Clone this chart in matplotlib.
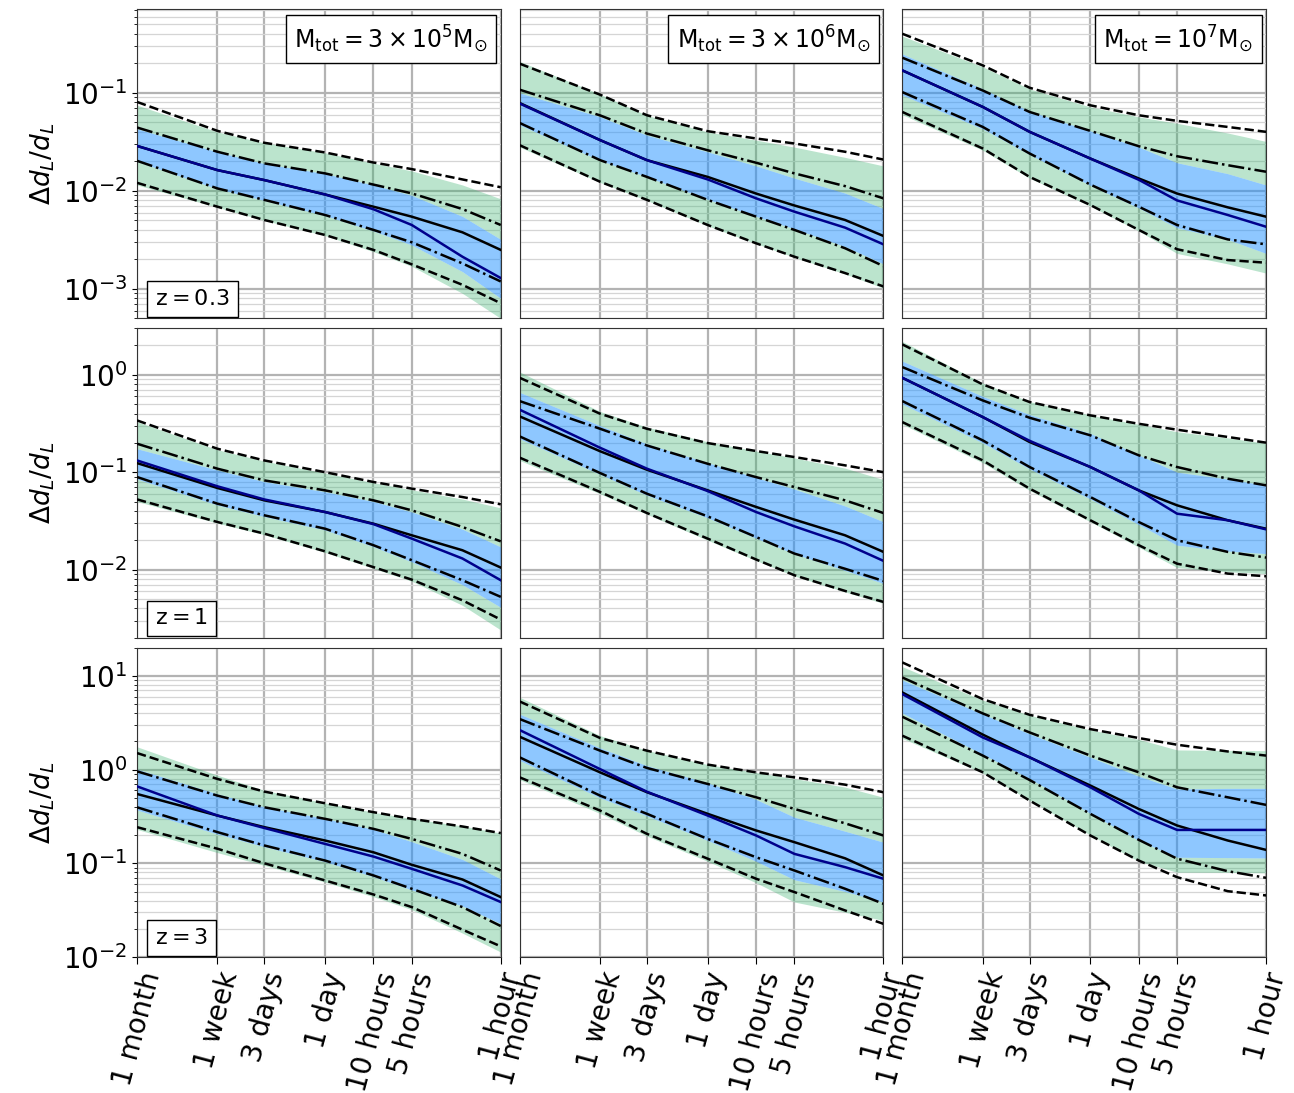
import numpy as np
import matplotlib
matplotlib.use("Agg")
import matplotlib.pyplot as plt

# time before merger (hours) at which the curves are sampled
t_hours = [720, 168, 72, 24, 10, 5, 2, 1]
tick_hours = [720, 168, 72, 24, 10, 5, 1]
tick_labels = ["1 month", "1 week", "3 days", "1 day", "10 hours", "5 hours", "1 hour"]

mass_labels = [r"$\mathrm{M_{tot}} = 3\times10^5\mathrm{M_{\odot}}$",
               r"$\mathrm{M_{tot}} = 3\times10^6\mathrm{M_{\odot}}$",
               r"$\mathrm{M_{tot}} = 10^7\mathrm{M_{\odot}}$"]
z_labels = [r"$\mathrm{z} = 0.3$", r"$\mathrm{z} = 1$", r"$\mathrm{z} = 3$"]
ylims = [(5e-4, 0.72), (2e-3, 3.0), (1e-2, 20.0)]

# ---- row z=0.3 ----
r0c0_dash_hi = [0.081, 0.041, 0.031, 0.0247, 0.0195, 0.0167, 0.0131, 0.0109]
r0c0_dd_hi = [0.0444, 0.0251, 0.0191, 0.0151, 0.0116, 0.00944, 0.00653, 0.00449]
r0c0_black = [0.0288, 0.0163, 0.0129, 0.0092, 0.0069, 0.00546, 0.00378, 0.0025]
r0c0_blue = [0.0288, 0.0163, 0.0129, 0.0092, 0.0065, 0.00449, 0.00213, 0.00129]
r0c0_dd_lo = [0.0203, 0.0106, 0.0081, 0.00568, 0.0040, 0.00299, 0.00182, 0.00119]
r0c0_dash_lo = [0.0121, 0.0069, 0.00505, 0.00355, 0.0025, 0.00178, 0.0011, 0.000714]
r0c0_green_hi = [0.075, 0.040, 0.031, 0.0245, 0.0192, 0.0160, 0.0115, 0.0083]
r0c0_blueband_hi = [0.043, 0.025, 0.019, 0.015, 0.0115, 0.0090, 0.0055, 0.0032]
r0c0_blueband_lo = [0.020, 0.0105, 0.0080, 0.0056, 0.0039, 0.0028, 0.0015, 0.00080]
r0c0_green_lo = [0.0115, 0.0068, 0.0050, 0.0035, 0.0024, 0.0017, 0.0009, 0.00050]

r0c1_dash_hi = [0.199, 0.096, 0.0592, 0.0407, 0.0343, 0.0305, 0.0251, 0.0209]
r0c1_dd_hi = [0.108, 0.059, 0.0385, 0.026, 0.0194, 0.0151, 0.0112, 0.0084]
r0c1_black = [0.079, 0.033, 0.0206, 0.0139, 0.0094, 0.0071, 0.00505, 0.00347]
r0c1_blue = [0.078, 0.033, 0.0206, 0.0131, 0.0084, 0.00614, 0.00422, 0.00285]
r0c1_dd_lo = [0.0494, 0.0206, 0.0139, 0.0081, 0.00546, 0.0040, 0.0026, 0.00171]
r0c1_dash_lo = [0.0293, 0.0124, 0.0081, 0.00449, 0.00292, 0.00213, 0.00145, 0.00106]
r0c1_green_hi = [0.21, 0.097, 0.059, 0.040, 0.033, 0.028, 0.022, 0.018]
r0c1_blueband_hi = [0.10, 0.057, 0.037, 0.025, 0.018, 0.0135, 0.0095, 0.0066]
r0c1_blueband_lo = [0.047, 0.0205, 0.0139, 0.0082, 0.0055, 0.0041, 0.0027, 0.0018]
r0c1_green_lo = [0.028, 0.0122, 0.0080, 0.0044, 0.0029, 0.0021, 0.00142, 0.00102]

r0c2_dash_hi = [0.402, 0.191, 0.113, 0.0748, 0.0592, 0.0519, 0.045, 0.0401]
r0c2_dd_hi = [0.229, 0.106, 0.064, 0.041, 0.0286, 0.0226, 0.0183, 0.0157]
r0c2_black = [0.170, 0.072, 0.0401, 0.0214, 0.0134, 0.0094, 0.0068, 0.00546]
r0c2_blue = [0.170, 0.072, 0.0401, 0.0214, 0.013, 0.0080, 0.00568, 0.00431]
r0c2_dd_lo = [0.102, 0.045, 0.0241, 0.0116, 0.0069, 0.00449, 0.0032, 0.00285]
r0c2_dash_lo = [0.064, 0.0271, 0.0139, 0.00718, 0.0040, 0.00254, 0.00197, 0.00185]
r0c2_green_hi = [0.38, 0.185, 0.110, 0.072, 0.057, 0.049, 0.039, 0.032]
r0c2_blueband_hi = [0.25, 0.11, 0.065, 0.041, 0.028, 0.0194, 0.015, 0.0115]
r0c2_blueband_lo = [0.095, 0.043, 0.0235, 0.0114, 0.0067, 0.0042, 0.0032, 0.0023]
r0c2_green_lo = [0.060, 0.026, 0.0135, 0.0070, 0.0039, 0.0023, 0.0018, 0.00145]

# ---- row z=1 ----
r1c0_dash_hi = [0.340, 0.174, 0.132, 0.100, 0.0793, 0.0678, 0.0556, 0.0468]
r1c0_dd_hi = [0.196, 0.1086, 0.0824, 0.0651, 0.0514, 0.0406, 0.0274, 0.0195]
r1c0_black = [0.124, 0.0688, 0.0514, 0.039, 0.0296, 0.0225, 0.0158, 0.0105]
r1c0_blue = [0.132, 0.0716, 0.0525, 0.039, 0.0293, 0.0208, 0.0130, 0.00778]
r1c0_dd_lo = [0.0892, 0.0475, 0.0361, 0.0263, 0.0178, 0.0125, 0.00778, 0.00525]
r1c0_dash_lo = [0.0526, 0.0308, 0.0234, 0.0154, 0.0106, 0.00789, 0.00484, 0.00307]
r1c0_green_hi = [0.33, 0.17, 0.13, 0.098, 0.078, 0.066, 0.053, 0.043]
r1c0_blueband_hi = [0.174, 0.105, 0.080, 0.063, 0.050, 0.039, 0.026, 0.0171]
r1c0_blueband_lo = [0.085, 0.046, 0.035, 0.0255, 0.0172, 0.0120, 0.0070, 0.0041]
r1c0_green_lo = [0.050, 0.0300, 0.0228, 0.0150, 0.0103, 0.0076, 0.0043, 0.0024]

r1c1_dash_hi = [0.931, 0.398, 0.279, 0.199, 0.165, 0.143, 0.1175, 0.100]
r1c1_dd_hi = [0.537, 0.279, 0.188, 0.122, 0.089, 0.0704, 0.0514, 0.0381]
r1c1_black = [0.374, 0.164, 0.106, 0.0651, 0.044, 0.0326, 0.0225, 0.0152]
r1c1_blue = [0.438, 0.178, 0.1086, 0.064, 0.039, 0.0278, 0.0185, 0.0123]
r1c1_dd_lo = [0.233, 0.098, 0.0601, 0.0352, 0.0216, 0.0146, 0.0102, 0.00765]
r1c1_dash_lo = [0.141, 0.0626, 0.0381, 0.0208, 0.0127, 0.00875, 0.00604, 0.00466]
r1c1_green_hi = [1.07, 0.42, 0.29, 0.205, 0.165, 0.14, 0.11, 0.084]
r1c1_blueband_hi = [0.66, 0.30, 0.195, 0.125, 0.088, 0.067, 0.045, 0.031]
r1c1_blueband_lo = [0.22, 0.095, 0.058, 0.034, 0.021, 0.0145, 0.0098, 0.0072]
r1c1_green_lo = [0.132, 0.060, 0.037, 0.020, 0.0124, 0.0086, 0.0059, 0.0045]

r1c2_dash_hi = [2.05, 0.796, 0.525, 0.383, 0.314, 0.273, 0.230, 0.201]
r1c2_dd_hi = [1.2, 0.545, 0.362, 0.239, 0.149, 0.113, 0.0857, 0.0733]
r1c2_black = [0.931, 0.368, 0.204, 0.113, 0.0651, 0.0457, 0.0321, 0.0263]
r1c2_blue = [0.931, 0.368, 0.210, 0.113, 0.0651, 0.0375, 0.0321, 0.0259]
r1c2_dd_lo = [0.537, 0.212, 0.113, 0.0556, 0.0308, 0.020, 0.0152, 0.0133]
r1c2_dash_lo = [0.327, 0.132, 0.0678, 0.0321, 0.0178, 0.0115, 0.0091, 0.00855]
r1c2_green_hi = [2.2, 0.82, 0.53, 0.385, 0.31, 0.26, 0.225, 0.198]
r1c2_blueband_hi = [1.38, 0.60, 0.39, 0.25, 0.15, 0.100, 0.085, 0.0733]
r1c2_blueband_lo = [0.50, 0.20, 0.108, 0.053, 0.029, 0.0178, 0.0155, 0.0146]
r1c2_green_lo = [0.31, 0.125, 0.065, 0.031, 0.017, 0.0105, 0.0095, 0.0091]

# ---- row z=3 ----
r2c0_dash_hi = [1.5, 0.794, 0.582, 0.437, 0.351, 0.298, 0.247, 0.21]
r2c0_dd_hi = [0.957, 0.527, 0.396, 0.298, 0.233, 0.182, 0.126, 0.0838]
r2c0_black = [0.549, 0.323, 0.243, 0.175, 0.131, 0.0964, 0.0672, 0.0436]
r2c0_blue = [0.662, 0.323, 0.238, 0.161, 0.118, 0.0873, 0.058, 0.0386]
r2c0_dd_lo = [0.396, 0.215, 0.155, 0.107, 0.0742, 0.0535, 0.0341, 0.0214]
r2c0_dash_lo = [0.243, 0.143, 0.100, 0.0656, 0.0465, 0.0341, 0.0196, 0.013]
r2c0_green_hi = [1.75, 0.87, 0.60, 0.44, 0.35, 0.30, 0.25, 0.21]
r2c0_blueband_hi = [1.01, 0.55, 0.40, 0.30, 0.23, 0.17, 0.11, 0.068]
r2c0_blueband_lo = [0.37, 0.205, 0.150, 0.104, 0.072, 0.052, 0.035, 0.0227]
r2c0_green_lo = [0.23, 0.13, 0.095, 0.063, 0.044, 0.032, 0.018, 0.0113]

r2c1_dash_hi = [5.33, 2.17, 1.59, 1.13, 0.933, 0.826, 0.69, 0.573]
r2c1_dd_hi = [3.46, 1.59, 1.04, 0.702, 0.506, 0.38, 0.267, 0.198]
r2c1_black = [2.24, 0.933, 0.573, 0.337, 0.224, 0.168, 0.113, 0.0742]
r2c1_blue = [2.64, 1.01, 0.58, 0.323, 0.198, 0.126, 0.091, 0.0684]
r2c1_dd_lo = [1.35, 0.527, 0.337, 0.182, 0.116, 0.0838, 0.0535, 0.037]
r2c1_dash_lo = [0.826, 0.365, 0.206, 0.112, 0.0684, 0.0493, 0.0314, 0.0226]
r2c1_green_hi = [5.9, 2.3, 1.6, 1.13, 0.93, 0.80, 0.65, 0.506]
r2c1_blueband_hi = [3.9, 1.7, 1.1, 0.72, 0.48, 0.31, 0.22, 0.168]
r2c1_blueband_lo = [1.25, 0.50, 0.32, 0.175, 0.105, 0.0667, 0.050, 0.0386]
r2c1_green_lo = [0.78, 0.34, 0.195, 0.105, 0.062, 0.0386, 0.030, 0.0246]

r2c2_dash_hi = [13.9, 5.64, 3.84, 2.7, 2.17, 1.84, 1.56, 1.41]
r2c2_dd_hi = [9.6, 3.97, 2.49, 1.41, 0.935, 0.647, 0.506, 0.42]
r2c2_black = [6.65, 2.36, 1.35, 0.675, 0.38, 0.253, 0.175, 0.139]
r2c2_blue = [6.38, 2.2, 1.35, 0.647, 0.337, 0.227, 0.227, 0.227]
r2c2_dd_lo = [3.66, 1.41, 0.774, 0.337, 0.178, 0.112, 0.0824, 0.070]
r2c2_dash_lo = [2.3, 0.935, 0.467, 0.198, 0.107, 0.0711, 0.0504, 0.0454]
r2c2_green_hi = [12.5, 5.5, 3.8, 2.65, 2.1, 1.62, 1.60, 1.59]
r2c2_blueband_hi = [9.0, 3.9, 2.4, 1.35, 0.85, 0.62, 0.63, 0.63]
r2c2_blueband_lo = [4.0, 1.45, 0.80, 0.34, 0.175, 0.116, 0.115, 0.114]
r2c2_green_lo = [2.15, 0.92, 0.47, 0.20, 0.105, 0.0803, 0.080, 0.079]

panels = [
    [(r0c0_green_lo, r0c0_green_hi, r0c0_blueband_lo, r0c0_blueband_hi, r0c0_dash_lo, r0c0_dash_hi, r0c0_dd_lo, r0c0_dd_hi, r0c0_black, r0c0_blue),
     (r0c1_green_lo, r0c1_green_hi, r0c1_blueband_lo, r0c1_blueband_hi, r0c1_dash_lo, r0c1_dash_hi, r0c1_dd_lo, r0c1_dd_hi, r0c1_black, r0c1_blue),
     (r0c2_green_lo, r0c2_green_hi, r0c2_blueband_lo, r0c2_blueband_hi, r0c2_dash_lo, r0c2_dash_hi, r0c2_dd_lo, r0c2_dd_hi, r0c2_black, r0c2_blue)],
    [(r1c0_green_lo, r1c0_green_hi, r1c0_blueband_lo, r1c0_blueband_hi, r1c0_dash_lo, r1c0_dash_hi, r1c0_dd_lo, r1c0_dd_hi, r1c0_black, r1c0_blue),
     (r1c1_green_lo, r1c1_green_hi, r1c1_blueband_lo, r1c1_blueband_hi, r1c1_dash_lo, r1c1_dash_hi, r1c1_dd_lo, r1c1_dd_hi, r1c1_black, r1c1_blue),
     (r1c2_green_lo, r1c2_green_hi, r1c2_blueband_lo, r1c2_blueband_hi, r1c2_dash_lo, r1c2_dash_hi, r1c2_dd_lo, r1c2_dd_hi, r1c2_black, r1c2_blue)],
    [(r2c0_green_lo, r2c0_green_hi, r2c0_blueband_lo, r2c0_blueband_hi, r2c0_dash_lo, r2c0_dash_hi, r2c0_dd_lo, r2c0_dd_hi, r2c0_black, r2c0_blue),
     (r2c1_green_lo, r2c1_green_hi, r2c1_blueband_lo, r2c1_blueband_hi, r2c1_dash_lo, r2c1_dash_hi, r2c1_dd_lo, r2c1_dd_hi, r2c1_black, r2c1_blue),
     (r2c2_green_lo, r2c2_green_hi, r2c2_blueband_lo, r2c2_blueband_hi, r2c2_dash_lo, r2c2_dash_hi, r2c2_dd_lo, r2c2_dd_hi, r2c2_black, r2c2_blue)],
]

GREEN = "mediumseagreen"
BLUE = "dodgerblue"

fig, axes = plt.subplots(3, 3, figsize=(12.94, 10.93), dpi=100, sharex=True, sharey="row")
fig.subplots_adjust(left=0.1059, right=0.9784, top=0.9918, bottom=0.1244,
                    wspace=0.052, hspace=0.032)

t = np.array(t_hours, dtype=float)
for i in range(3):
    for j in range(3):
        ax = axes[i, j]
        g_lo, g_hi, b_lo, b_hi, d_lo, d_hi, dd_lo, dd_hi, blk, blu = [np.array(a) for a in panels[i][j]]
        ax.set_xscale("log")
        ax.set_yscale("log")
        ax.grid(True, which="major", color="#b3b3b3", lw=1.6, zorder=0)
        ax.grid(True, which="minor", axis="y", color="#d5d5d5", lw=0.9, zorder=0)
        ax.set_axisbelow(True)
        ax.fill_between(t, g_lo, np.minimum(b_lo, g_hi), color=GREEN, alpha=0.35, lw=0, zorder=1)
        ax.fill_between(t, np.maximum(b_hi, g_lo), g_hi, color=GREEN, alpha=0.35, lw=0, zorder=1)
        ax.fill_between(t, b_lo, b_hi, color=BLUE, alpha=0.5, lw=0, zorder=1)
        ax.plot(t, d_hi, "k--", lw=1.8, zorder=3)
        ax.plot(t, d_lo, "k--", lw=1.8, zorder=3)
        ax.plot(t, dd_hi, "k-.", lw=1.8, zorder=3)
        ax.plot(t, dd_lo, "k-.", lw=1.8, zorder=3)
        ax.plot(t, blk, "k-", lw=1.8, zorder=4)
        ax.plot(t, blu, "-", color="darkblue", lw=1.8, zorder=4)
        ax.set_xlim(720, 1)
        ax.set_ylim(*ylims[i])
        ax.set_xticks(tick_hours)
        ax.set_xticks([], minor=True)
        ax.set_xticklabels(tick_labels, rotation=75, fontsize=20, ha="center")
        ax.tick_params(axis="y", labelsize=20)
        ax.tick_params(axis="x", length=5)
        for sp in ax.spines.values():
            sp.set_color("#333333")
        if i == 0:
            ax.text(0.965, 0.955, mass_labels[j], transform=ax.transAxes, ha="right", va="top",
                    fontsize=17, zorder=6,
                    bbox=dict(boxstyle="square,pad=0.35", fc="white", ec="black", lw=1))
        if j == 0:
            ax.set_ylabel(r"$\Delta d_L/d_L$", fontsize=19)
            ax.text(0.05, 0.03, z_labels[i], transform=ax.transAxes, ha="left", va="bottom",
                    fontsize=16, zorder=6,
                    bbox=dict(boxstyle="square,pad=0.35", fc="white", ec="black", lw=1))
        else:
            ax.tick_params(axis="y", which="both", left=False, labelleft=False)
        if i < 2:
            ax.tick_params(axis="x", bottom=False, labelbottom=False)

fig.savefig("out.png", dpi=100)
